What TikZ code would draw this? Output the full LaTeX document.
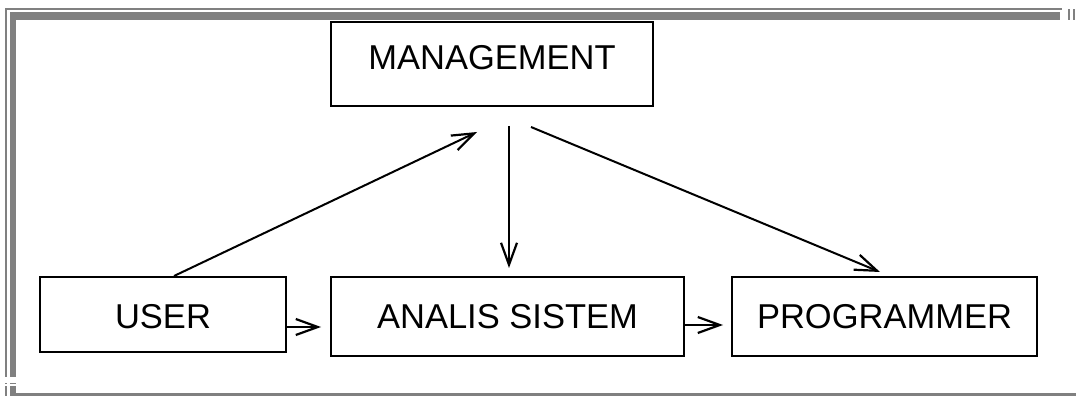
\documentclass[tikz,border=0pt]{standalone}
\usepackage{fontspec}
\setmainfont{Liberation Sans}
\usetikzlibrary{arrows.meta,calc}
\begin{document}
\begin{tikzpicture}[x=1pt,y=1pt,
  boxnode/.style={draw,line width=2pt,inner xsep=0pt,inner ysep=0pt,font=\fontsize{34.5}{40}\selectfont},
  conn/.style={line width=2pt,-{Straight Barb[length=22pt,width=16pt,line width=2.2pt]}},
  frame/.style={fill=black!50,draw=none}]
\useasboundingbox (0,0) rectangle (1076,396);
% frame
\fill[frame] (5,386) rectangle (1062,387.5);
\fill[frame] (10,376) rectangle (1060,384);
\fill[frame] (5,19) rectangle (6.5,387.5);
\fill[frame] (10,19) rectangle (16,384);
\fill[frame] (1068,376) rectangle (1069.5,387);
\fill[frame] (1073,376) rectangle (1075,387);
\fill[frame] (5,0) rectangle (6.5,10);
\fill[frame] (10,0) rectangle (16,10);
\fill[frame] (5,12) rectangle (6.5,13);
\fill[frame] (10,12) rectangle (16,13);
\fill[frame] (16,0) rectangle (1076,3);
% boxes
\node[boxnode,minimum width=322pt,text height=48pt,text depth=36pt,anchor=south west] (mgmt) at (330,289) {MANAGEMENT};
\node[boxnode,minimum width=246pt,text height=52pt,text depth=23pt,anchor=south west] (user) at (39,43) {USER};
\node[boxnode,minimum width=353pt,text height=52pt,text depth=27pt,anchor=south west] (anal) at (330,39) {ANALIS SISTEM};
\node[boxnode,minimum width=305pt,text height=52pt,text depth=27pt,anchor=south west] (prog) at (731,39) {PROGRAMMER};
% connector ends
\coordinate (u2m) at (477,264);
\coordinate (m2a) at (509,270);
\coordinate (m2aE) at (509,128);
\coordinate (m2p) at (531,269);
\coordinate (m2pE) at (880,124);
\coordinate (u2aE) at (321,69);
\coordinate (a2pE) at (723,71);
\draw[conn] ($(user.north)+(11,0)$) -- (u2m);
\draw[conn] (m2a) -- (m2aE);
\draw[conn] (m2p) -- (m2pE);
\draw[conn] (user.east |- u2aE) -- (u2aE);
\draw[conn] (anal.east |- a2pE) -- (a2pE);
\end{tikzpicture}
\end{document}
